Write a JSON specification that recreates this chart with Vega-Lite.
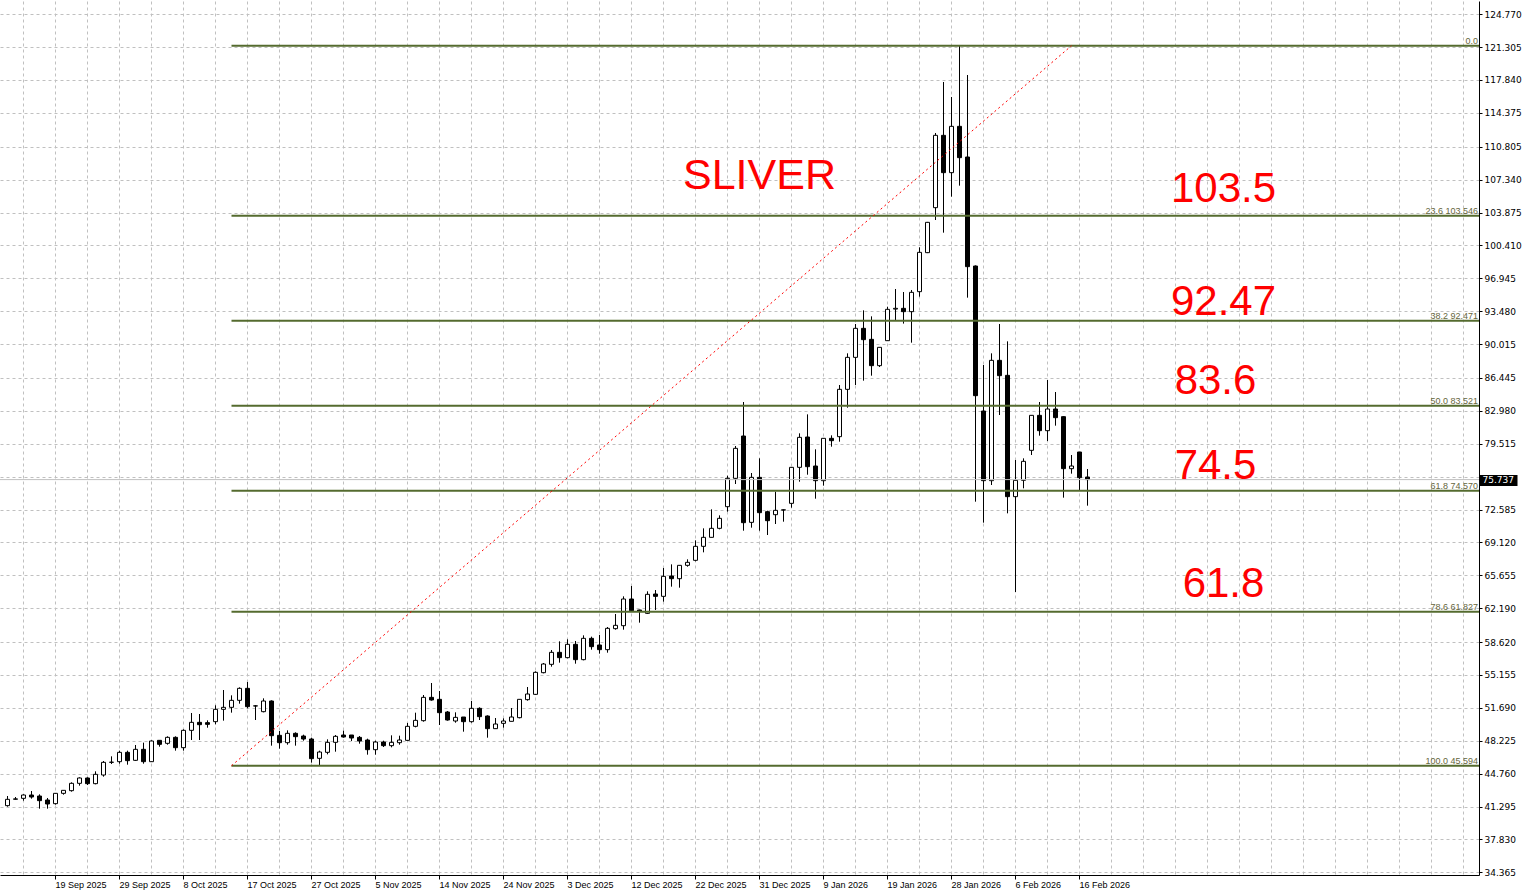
{
  "$schema": "https://vega.github.io/schema/vega-lite/v6.json",
  "autosize": "none",
  "width": 1479,
  "height": 874,
  "padding": {"left": 0, "top": 1, "right": 43, "bottom": 21},
  "background": "white",
  "config": {"view": {"stroke": null}},
  "datasets": {
    "candles": [
      {"t":"12 Sep 2025","o":41.385,"h":42.403,"l":41.280,"c":42.052},
      {"t":"14 Sep 2025","o":42.06,"h":42.298,"l":42.017,"c":42.10},
      {"t":"15 Sep 2025","o":42.157,"h":42.579,"l":41.912,"c":42.508},
      {"t":"16 Sep 2025","o":42.508,"h":42.930,"l":42.122,"c":42.298},
      {"t":"17 Sep 2025","o":42.403,"h":42.579,"l":41.069,"c":41.912},
      {"t":"18 Sep 2025","o":41.982,"h":42.193,"l":41.069,"c":41.561},
      {"t":"19 Sep 2025","o":41.596,"h":42.719,"l":41.491,"c":42.684},
      {"t":"21 Sep 2025","o":42.684,"h":43.000,"l":42.544,"c":43.000},
      {"t":"22 Sep 2025","o":42.965,"h":43.843,"l":42.860,"c":43.738},
      {"t":"23 Sep 2025","o":43.738,"h":44.370,"l":43.492,"c":44.300},
      {"t":"24 Sep 2025","o":44.300,"h":44.370,"l":43.562,"c":43.703},
      {"t":"25 Sep 2025","o":43.703,"h":45.002,"l":43.632,"c":44.686},
      {"t":"26 Sep 2025","o":44.616,"h":46.090,"l":44.440,"c":45.950},
      {"t":"28 Sep 2025","o":45.95,"h":46.582,"l":45.774,"c":45.97},
      {"t":"29 Sep 2025","o":46.020,"h":47.179,"l":45.809,"c":47.004},
      {"t":"30 Sep 2025","o":47.004,"h":47.179,"l":45.704,"c":46.126},
      {"t":"1 Oct 2025","o":46.161,"h":47.776,"l":46.091,"c":47.320},
      {"t":"2 Oct 2025","o":47.320,"h":48.022,"l":45.809,"c":46.020},
      {"t":"3 Oct 2025","o":46.020,"h":48.268,"l":45.985,"c":48.197},
      {"t":"5 Oct 2025","o":48.268,"h":48.268,"l":47.601,"c":47.846},
      {"t":"6 Oct 2025","o":47.952,"h":48.689,"l":47.811,"c":48.584},
      {"t":"7 Oct 2025","o":48.584,"h":48.689,"l":47.179,"c":47.495},
      {"t":"8 Oct 2025","o":47.495,"h":49.427,"l":47.179,"c":49.321},
      {"t":"9 Oct 2025","o":49.321,"h":51.148,"l":48.303,"c":50.164},
      {"t":"10 Oct 2025","o":50.164,"h":51.042,"l":48.303,"c":49.918},
      {"t":"12 Oct 2025","o":50.129,"h":50.375,"l":49.602,"c":49.953},
      {"t":"13 Oct 2025","o":50.235,"h":51.955,"l":49.953,"c":51.534},
      {"t":"14 Oct 2025","o":51.534,"h":53.570,"l":50.340,"c":51.744},
      {"t":"15 Oct 2025","o":51.744,"h":53.009,"l":51.183,"c":52.482},
      {"t":"16 Oct 2025","o":52.482,"h":53.851,"l":52.131,"c":53.746},
      {"t":"17 Oct 2025","o":53.746,"h":54.413,"l":51.639,"c":51.815},
      {"t":"19 Oct 2025","o":51.885,"h":51.990,"l":50.410,"c":51.90},
      {"t":"20 Oct 2025","o":51.287,"h":52.692,"l":51.217,"c":52.411},
      {"t":"21 Oct 2025","o":52.411,"h":52.481,"l":47.706,"c":48.759},
      {"t":"22 Oct 2025","o":48.794,"h":49.250,"l":47.389,"c":48.021},
      {"t":"23 Oct 2025","o":48.021,"h":49.321,"l":47.811,"c":49.005},
      {"t":"24 Oct 2025","o":49.005,"h":49.110,"l":47.706,"c":48.654},
      {"t":"26 Oct 2025","o":48.724,"h":48.864,"l":48.232,"c":48.408},
      {"t":"27 Oct 2025","o":48.408,"h":48.548,"l":45.915,"c":46.336},
      {"t":"28 Oct 2025","o":46.371,"h":47.179,"l":45.594,"c":47.038},
      {"t":"29 Oct 2025","o":47.003,"h":48.373,"l":46.792,"c":48.057},
      {"t":"30 Oct 2025","o":48.057,"h":48.829,"l":47.073,"c":48.689},
      {"t":"31 Oct 2025","o":48.829,"h":49.286,"l":48.548,"c":48.618},
      {"t":"2 Nov 2025","o":48.829,"h":48.829,"l":48.197,"c":48.513},
      {"t":"3 Nov 2025","o":48.583,"h":48.724,"l":47.916,"c":48.197},
      {"t":"4 Nov 2025","o":48.302,"h":48.443,"l":46.757,"c":47.284},
      {"t":"5 Nov 2025","o":47.284,"h":48.232,"l":46.757,"c":48.092},
      {"t":"6 Nov 2025","o":48.092,"h":48.232,"l":47.565,"c":47.706},
      {"t":"7 Nov 2025","o":47.706,"h":48.794,"l":47.530,"c":48.057},
      {"t":"9 Nov 2025","o":48.021,"h":48.759,"l":47.811,"c":48.302},
      {"t":"10 Nov 2025","o":48.267,"h":50.093,"l":48.232,"c":49.742},
      {"t":"11 Nov 2025","o":49.742,"h":51.182,"l":49.637,"c":50.374},
      {"t":"12 Nov 2025","o":50.339,"h":53.043,"l":50.234,"c":52.797},
      {"t":"13 Nov 2025","o":52.797,"h":54.307,"l":52.446,"c":52.516},
      {"t":"14 Nov 2025","o":52.587,"h":53.465,"l":49.883,"c":51.182},
      {"t":"16 Nov 2025","o":51.252,"h":51.358,"l":50.339,"c":50.409},
      {"t":"17 Nov 2025","o":50.304,"h":51.217,"l":50.128,"c":50.690},
      {"t":"18 Nov 2025","o":50.725,"h":50.725,"l":49.180,"c":50.234},
      {"t":"19 Nov 2025","o":50.234,"h":52.411,"l":50.128,"c":51.639},
      {"t":"20 Nov 2025","o":51.639,"h":51.744,"l":50.409,"c":50.761},
      {"t":"21 Nov 2025","o":50.831,"h":50.901,"l":48.548,"c":49.497},
      {"t":"23 Nov 2025","o":49.497,"h":50.620,"l":49.497,"c":49.988},
      {"t":"24 Nov 2025","o":50.058,"h":50.585,"l":49.602,"c":50.304},
      {"t":"25 Nov 2025","o":50.269,"h":51.674,"l":50.269,"c":50.725},
      {"t":"26 Nov 2025","o":50.655,"h":52.587,"l":50.585,"c":52.587},
      {"t":"27 Nov 2025","o":52.552,"h":53.886,"l":52.446,"c":53.149},
      {"t":"28 Nov 2025","o":53.113,"h":55.537,"l":53.043,"c":55.431},
      {"t":"30 Nov 2025","o":55.396,"h":56.415,"l":55.326,"c":56.309},
      {"t":"1 Dec 2025","o":56.274,"h":57.784,"l":56.029,"c":57.539},
      {"t":"2 Dec 2025","o":57.539,"h":58.697,"l":56.450,"c":56.977},
      {"t":"3 Dec 2025","o":56.977,"h":58.908,"l":56.907,"c":58.381},
      {"t":"4 Dec 2025","o":58.381,"h":58.733,"l":56.344,"c":56.766},
      {"t":"5 Dec 2025","o":56.766,"h":59.330,"l":56.696,"c":59.013},
      {"t":"7 Dec 2025","o":59.013,"h":59.189,"l":57.820,"c":58.136},
      {"t":"8 Dec 2025","o":58.312,"h":59.365,"l":57.398,"c":57.820},
      {"t":"9 Dec 2025","o":57.820,"h":60.207,"l":57.503,"c":60.067},
      {"t":"10 Dec 2025","o":60.032,"h":61.577,"l":59.926,"c":60.383},
      {"t":"11 Dec 2025","o":60.347,"h":63.438,"l":59.926,"c":63.156},
      {"t":"12 Dec 2025","o":63.156,"h":64.527,"l":61.900,"c":61.928},
      {"t":"14 Dec 2025","o":62.00,"h":62.03,"l":60.664,"c":61.86},
      {"t":"15 Dec 2025","o":61.647,"h":63.965,"l":61.577,"c":63.649},
      {"t":"16 Dec 2025","o":63.684,"h":64.105,"l":61.998,"c":63.438},
      {"t":"17 Dec 2025","o":63.438,"h":66.423,"l":62.876,"c":65.545},
      {"t":"18 Dec 2025","o":65.580,"h":66.808,"l":64.457,"c":65.299},
      {"t":"19 Dec 2025","o":65.299,"h":66.704,"l":64.351,"c":66.704},
      {"t":"21 Dec 2025","o":66.704,"h":67.336,"l":66.563,"c":67.020},
      {"t":"22 Dec 2025","o":67.231,"h":69.338,"l":67.126,"c":68.706},
      {"t":"23 Dec 2025","o":68.706,"h":70.602,"l":68.073,"c":69.654},
      {"t":"24 Dec 2025","o":69.654,"h":72.604,"l":69.654,"c":70.602},
      {"t":"25 Dec 2025","o":70.602,"h":71.972,"l":70.497,"c":71.656},
      {"t":"26 Dec 2025","o":72.884,"h":76.150,"l":72.357,"c":75.869},
      {"t":"28 Dec 2025","o":75.869,"h":79.275,"l":75.272,"c":79.030},
      {"t":"29 Dec 2025","o":80.329,"h":83.911,"l":70.355,"c":71.198},
      {"t":"30 Dec 2025","o":71.233,"h":76.431,"l":70.672,"c":75.974},
      {"t":"31 Dec 2025","o":75.974,"h":77.976,"l":70.355,"c":72.252},
      {"t":"1 Jan 2026","o":72.357,"h":72.462,"l":69.899,"c":71.409},
      {"t":"2 Jan 2026","o":72.041,"h":74.464,"l":71.058,"c":72.498},
      {"t":"4 Jan 2026","o":72.53,"h":72.603,"l":71.304,"c":72.55},
      {"t":"5 Jan 2026","o":73.235,"h":77.028,"l":72.779,"c":77.028},
      {"t":"6 Jan 2026","o":77.028,"h":80.610,"l":75.518,"c":80.188},
      {"t":"7 Jan 2026","o":80.223,"h":82.611,"l":76.253,"c":77.098},
      {"t":"8 Jan 2026","o":77.168,"h":78.924,"l":73.727,"c":75.623},
      {"t":"9 Jan 2026","o":75.623,"h":80.083,"l":75.097,"c":80.083},
      {"t":"11 Jan 2026","o":80.083,"h":80.399,"l":79.205,"c":79.837},
      {"t":"12 Jan 2026","o":80.259,"h":85.702,"l":79.732,"c":85.245},
      {"t":"13 Jan 2026","o":85.245,"h":89.038,"l":83.314,"c":88.616},
      {"t":"14 Jan 2026","o":88.616,"h":92.128,"l":85.702,"c":91.672},
      {"t":"15 Jan 2026","o":91.672,"h":93.568,"l":86.159,"c":90.478},
      {"t":"16 Jan 2026","o":90.513,"h":92.936,"l":86.685,"c":87.739},
      {"t":"18 Jan 2026","o":87.739,"h":89.670,"l":87.598,"c":89.670},
      {"t":"19 Jan 2026","o":90.372,"h":93.95,"l":90.372,"c":93.673},
      {"t":"20 Jan 2026","o":93.70,"h":95.816,"l":92.50,"c":93.78},
      {"t":"21 Jan 2026","o":93.779,"h":95.500,"l":92.17,"c":93.428},
      {"t":"22 Jan 2026","o":93.428,"h":95.711,"l":90.162,"c":95.465},
      {"t":"23 Jan 2026","o":95.535,"h":100.206,"l":95.008,"c":99.679},
      {"t":"25 Jan 2026","o":99.644,"h":102.88,"l":99.60,"c":102.839},
      {"t":"26 Jan 2026","o":104.385,"h":112.251,"l":103.085,"c":112.005},
      {"t":"27 Jan 2026","o":112.005,"h":117.624,"l":101.751,"c":108.072},
      {"t":"28 Jan 2026","o":108.072,"h":116.044,"l":105.543,"c":112.953},
      {"t":"29 Jan 2026","o":112.953,"h":121.448,"l":106.703,"c":109.652},
      {"t":"30 Jan 2026","o":109.722,"h":118.361,"l":94.903,"c":98.169},
      {"t":"1 Feb 2026","o":98.239,"h":98.30,"l":73.411,"c":84.578},
      {"t":"2 Feb 2026","o":82.963,"h":87.809,"l":71.199,"c":75.624},
      {"t":"3 Feb 2026","o":75.624,"h":89.038,"l":75.167,"c":88.301},
      {"t":"4 Feb 2026","o":88.301,"h":92.129,"l":82.542,"c":86.685},
      {"t":"5 Feb 2026","o":86.721,"h":90.302,"l":72.182,"c":73.938},
      {"t":"6 Feb 2026","o":73.938,"h":77.801,"l":63.895,"c":75.659},
      {"t":"8 Feb 2026","o":75.659,"h":77.976,"l":74.816,"c":77.660},
      {"t":"9 Feb 2026","o":78.819,"h":82.507,"l":78.328,"c":82.507},
      {"t":"10 Feb 2026","o":82.507,"h":83.911,"l":80.364,"c":80.891},
      {"t":"11 Feb 2026","o":80.891,"h":86.229,"l":79.802,"c":83.174},
      {"t":"12 Feb 2026","o":83.174,"h":84.965,"l":81.418,"c":82.261},
      {"t":"13 Feb 2026","o":82.366,"h":82.40,"l":73.833,"c":76.888},
      {"t":"15 Feb 2026","o":76.888,"h":78.328,"l":76.361,"c":77.169},
      {"t":"16 Feb 2026","o":78.644,"h":78.65,"l":74.641,"c":75.940},
      {"t":"17 Feb 2026","o":76.010,"h":76.853,"l":72.990,"c":75.737}
    ],
    "fib": [
      {"t":"15 Oct 2025","p":121.448,"lab":"0.0"},
      {"t":"15 Oct 2025","p":103.546,"lab":"23.6 103.546"},
      {"t":"15 Oct 2025","p":92.471,"lab":"38.2 92.471"},
      {"t":"15 Oct 2025","p":83.521,"lab":"50.0 83.521"},
      {"t":"15 Oct 2025","p":74.570,"lab":"61.8 74.570"},
      {"t":"15 Oct 2025","p":61.827,"lab":"78.6 61.827"},
      {"t":"15 Oct 2025","p":45.594,"lab":"100.0 45.594"}
    ],
    "trend": [
      {"t":"15 Oct 2025","p":45.594},
      {"t":"15 Feb 2026","p":121.448}
    ],
    "price": [{"p":75.737}],
    "notes": [
      {"t":"31 Dec 2025","p":106.32,"txt":"SLIVER"},
      {"t":"9 Mar 2026","p":104.98,"txt":"103.5"},
      {"t":"9 Mar 2026","p":93.03,"txt":"92.47"},
      {"t":"8 Mar 2026","p":84.72,"txt":"83.6"},
      {"t":"8 Mar 2026","p":75.80,"txt":"74.5"},
      {"t":"9 Mar 2026","p":63.41,"txt":"61.8"}
    ]
  },
  "resolve": {"axis": {"x": "independent", "y": "independent"}},
  "layer": [
    {
      "data": {"name": "candles"},
      "mark": {"type": "rule", "color": "black", "strokeWidth": 1},
      "encoding": {
        "x": {
          "field": "t", "type": "ordinal",
          "scale": {
            "type": "band", "paddingInner": 0, "paddingOuter": 0.4375,
            "domain": ["12 Sep 2025","14 Sep 2025","15 Sep 2025","16 Sep 2025","17 Sep 2025","18 Sep 2025","19 Sep 2025","21 Sep 2025","22 Sep 2025","23 Sep 2025","24 Sep 2025","25 Sep 2025","26 Sep 2025","28 Sep 2025","29 Sep 2025","30 Sep 2025",
              "1 Oct 2025","2 Oct 2025","3 Oct 2025","5 Oct 2025","6 Oct 2025","7 Oct 2025","8 Oct 2025","9 Oct 2025","10 Oct 2025","12 Oct 2025","13 Oct 2025","14 Oct 2025","15 Oct 2025","16 Oct 2025","17 Oct 2025","19 Oct 2025","20 Oct 2025","21 Oct 2025","22 Oct 2025","23 Oct 2025","24 Oct 2025","26 Oct 2025","27 Oct 2025","28 Oct 2025","29 Oct 2025","30 Oct 2025","31 Oct 2025",
              "2 Nov 2025","3 Nov 2025","4 Nov 2025","5 Nov 2025","6 Nov 2025","7 Nov 2025","9 Nov 2025","10 Nov 2025","11 Nov 2025","12 Nov 2025","13 Nov 2025","14 Nov 2025","16 Nov 2025","17 Nov 2025","18 Nov 2025","19 Nov 2025","20 Nov 2025","21 Nov 2025","23 Nov 2025","24 Nov 2025","25 Nov 2025","26 Nov 2025","27 Nov 2025","28 Nov 2025","30 Nov 2025",
              "1 Dec 2025","2 Dec 2025","3 Dec 2025","4 Dec 2025","5 Dec 2025","7 Dec 2025","8 Dec 2025","9 Dec 2025","10 Dec 2025","11 Dec 2025","12 Dec 2025","14 Dec 2025","15 Dec 2025","16 Dec 2025","17 Dec 2025","18 Dec 2025","19 Dec 2025","21 Dec 2025","22 Dec 2025","23 Dec 2025","24 Dec 2025","25 Dec 2025","26 Dec 2025","28 Dec 2025","29 Dec 2025","30 Dec 2025","31 Dec 2025",
              "1 Jan 2026","2 Jan 2026","4 Jan 2026","5 Jan 2026","6 Jan 2026","7 Jan 2026","8 Jan 2026","9 Jan 2026","11 Jan 2026","12 Jan 2026","13 Jan 2026","14 Jan 2026","15 Jan 2026","16 Jan 2026","18 Jan 2026","19 Jan 2026","20 Jan 2026","21 Jan 2026","22 Jan 2026","23 Jan 2026","25 Jan 2026","26 Jan 2026","27 Jan 2026","28 Jan 2026","29 Jan 2026","30 Jan 2026",
              "1 Feb 2026","2 Feb 2026","3 Feb 2026","4 Feb 2026","5 Feb 2026","6 Feb 2026","8 Feb 2026","9 Feb 2026","10 Feb 2026","11 Feb 2026","12 Feb 2026","13 Feb 2026","15 Feb 2026","16 Feb 2026","17 Feb 2026","18 Feb 2026","19 Feb 2026","20 Feb 2026","22 Feb 2026","23 Feb 2026","24 Feb 2026","25 Feb 2026","26 Feb 2026","27 Feb 2026",
              "1 Mar 2026","2 Mar 2026","3 Mar 2026","4 Mar 2026","5 Mar 2026","6 Mar 2026","8 Mar 2026","9 Mar 2026","10 Mar 2026","11 Mar 2026","12 Mar 2026","13 Mar 2026","15 Mar 2026","16 Mar 2026","17 Mar 2026","18 Mar 2026","19 Mar 2026","20 Mar 2026","22 Mar 2026","23 Mar 2026","24 Mar 2026","25 Mar 2026","26 Mar 2026","27 Mar 2026","29 Mar 2026","30 Mar 2026","31 Mar 2026",
              "1 Apr 2026","2 Apr 2026","3 Apr 2026","5 Apr 2026","6 Apr 2026","7 Apr 2026","8 Apr 2026","9 Apr 2026","10 Apr 2026","12 Apr 2026","13 Apr 2026","14 Apr 2026"]
          },
          "axis": {
            "orient": "bottom", "grid": true, "gridColor": "#c0c0c0", "gridDash": [3, 3], "gridWidth": 1,
            "domain": false, "ticks": false, "labels": false, "title": null,
            "values": ["15 Sep 2025","19 Sep 2025","24 Sep 2025","29 Sep 2025","3 Oct 2025","8 Oct 2025","13 Oct 2025","17 Oct 2025","22 Oct 2025","27 Oct 2025","31 Oct 2025","5 Nov 2025","10 Nov 2025","14 Nov 2025","19 Nov 2025","24 Nov 2025","28 Nov 2025","3 Dec 2025","8 Dec 2025","12 Dec 2025","17 Dec 2025","22 Dec 2025","26 Dec 2025","31 Dec 2025","5 Jan 2026","9 Jan 2026","14 Jan 2026","19 Jan 2026","23 Jan 2026","28 Jan 2026","2 Feb 2026","6 Feb 2026","11 Feb 2026","16 Feb 2026","20 Feb 2026","25 Feb 2026","2 Mar 2026","6 Mar 2026","11 Mar 2026","16 Mar 2026","20 Mar 2026","25 Mar 2026","30 Mar 2026","3 Apr 2026","8 Apr 2026","13 Apr 2026"]
          }
        },
        "y": {
          "field": "l", "type": "quantitative",
          "scale": {"domain": [34.081, 126.157], "zero": false, "nice": false},
          "axis": {
            "orient": "right", "title": null, "format": ".3f",
            "values": [124.770,121.305,117.840,114.375,110.805,107.340,103.875,100.410,96.945,93.480,90.015,86.445,82.980,79.515,76.050,72.585,69.120,65.655,62.190,58.620,55.155,51.690,48.225,44.760,41.295,37.830,34.365],
            "labelExpr": "datum.value == 76.05 ? '' : datum.label",
            "grid": true, "gridColor": "#c0c0c0", "gridDash": [3, 3], "gridWidth": 1,
            "domain": true, "domainColor": "black", "domainWidth": 1,
            "ticks": true, "tickColor": "black", "tickSize": 3,
            "labelFont": "DejaVu Sans", "labelFontSize": 9, "labelColor": "black",
            "labelPadding": 2, "labelBaseline": "middle", "labelOverlap": false
          }
        },
        "y2": {"field": "h"}
      }
    },
    {
      "data": {"name": "candles"},
      "mark": {"type": "bar", "size": 4, "stroke": "black", "strokeWidth": 1},
      "encoding": {
        "x": {
          "field": "t", "type": "ordinal",
          "axis": {
            "orient": "bottom", "title": null, "grid": false,
            "values": ["19 Sep 2025","29 Sep 2025","8 Oct 2025","17 Oct 2025","27 Oct 2025","5 Nov 2025","14 Nov 2025","24 Nov 2025","3 Dec 2025","12 Dec 2025","22 Dec 2025","31 Dec 2025","9 Jan 2026","19 Jan 2026","28 Jan 2026","6 Feb 2026","16 Feb 2026"],
            "domain": true, "domainColor": "black", "domainWidth": 1,
            "ticks": true, "tickColor": "black", "tickSize": 4,
            "labelAngle": 0,
            "labelFont": "Liberation Sans", "labelFontSize": 9, "labelColor": "black",
            "labelAlign": "left", "labelBaseline": "top", "labelPadding": 1, "labelOverlap": false
          }
        },
        "y": {"field": "o", "type": "quantitative", "axis": null},
        "y2": {"field": "c"},
        "fill": {"condition": {"test": "datum.c >= datum.o", "value": "white"}, "value": "black"}
      }
    },
    {
      "data": {"name": "price"},
      "mark": {"type": "rule", "color": "#c0c0c0", "strokeWidth": 1},
      "encoding": {
        "y": {
          "field": "p", "type": "quantitative",
          "axis": {
            "orient": "right", "title": null, "values": [75.737], "format": ".3f",
            "grid": false, "domain": false, "zindex": 2,
            "ticks": true, "tickColor": "black", "tickSize": 38, "tickWidth": 11,
            "labelColor": "white", "labelFont": "DejaVu Sans", "labelFontSize": 9,
            "labelPadding": -35, "labelAlign": "left", "labelBaseline": "middle"
          }
        }
      }
    },
    {
      "data": {"name": "fib"},
      "mark": {"type": "rule", "color": "#556B2F", "strokeWidth": 2},
      "encoding": {
        "x": {"field": "t", "type": "ordinal", "axis": null},
        "x2": {"value": "width"},
        "y": {"field": "p", "type": "quantitative", "axis": null}
      }
    },
    {
      "data": {"name": "fib"},
      "mark": {"type": "text", "align": "right", "baseline": "alphabetic", "dx": -1, "dy": -2, "font": "Liberation Sans", "fontSize": 9, "color": "#66663c"},
      "encoding": {
        "x": {"value": "width"},
        "y": {"field": "p", "type": "quantitative", "axis": null},
        "text": {"field": "lab"}
      }
    },
    {
      "data": {"name": "trend"},
      "mark": {"type": "line", "color": "#ff0000", "strokeWidth": 1, "strokeDash": [2, 3]},
      "encoding": {
        "x": {"field": "t", "type": "ordinal", "axis": null},
        "y": {"field": "p", "type": "quantitative", "axis": null}
      }
    },
    {
      "data": {"name": "notes"},
      "mark": {"type": "text", "align": "center", "baseline": "alphabetic", "font": "Liberation Sans", "color": "#ff0000"},
      "encoding": {
        "x": {"field": "t", "type": "ordinal", "axis": null},
        "y": {"field": "p", "type": "quantitative", "axis": null},
        "text": {"field": "txt"},
        "size": {"condition": {"test": "datum.txt === 'SLIVER'", "value": 43}, "value": 42}
      }
    }
  ]
}
